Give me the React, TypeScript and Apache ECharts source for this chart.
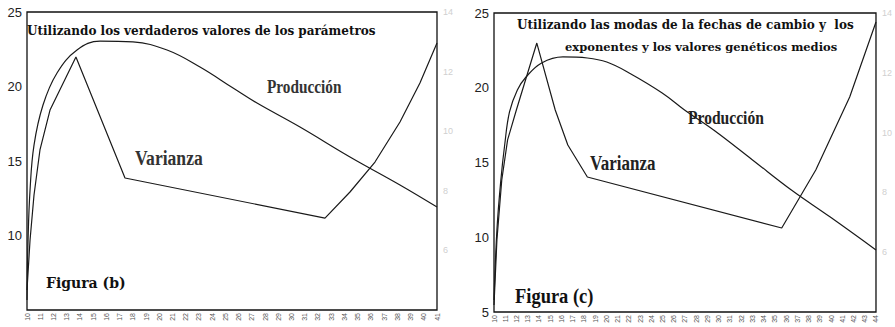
import React, { useEffect, useRef } from "react";
import * as echarts from "echarts";

// Tick labels (tiny rotated labels along the bottom, illegible in the scan)
const leftTicks = Array.from({ length: 32 }, (_, i) => String(10 + i));
const rightTicks = Array.from({ length: 35 }, (_, i) => String(10 + i));

// Figura (b): Producción
const prodLeftX = [0, 0.08, 0.23, 0.53, 1.21, 2.27, 3.78, 5.52, 8.01, 10.59, 13.08, 15.58, 17.39, 20.64, 24.42, 28.2, 31];
const prodLeftY = [5.67, 9.7, 13.05, 16.07, 18.76, 20.91, 22.45, 23.05, 22.99, 22.45, 21.31, 19.9, 18.89, 17.28, 15.27, 13.39, 11.91];
// Figura (b): Varianza
const varLeftX = [0, 0.23, 0.53, 0.98, 1.74, 3.7, 7.41, 22.53, 24.42, 26.31, 28.2, 29.71, 31];
const varLeftY = [6.34, 9.7, 12.72, 15.74, 18.42, 21.98, 13.86, 11.17, 12.92, 14.93, 17.62, 20.23, 22.92];

// Figura (c): Producción
const prodRightX = [0, 0.26, 0.61, 0.95, 1.38, 2.08, 2.85, 4.24, 6.14, 8.31, 10.04, 12.03, 14.97, 16.96, 19.55, 23.01, 26.47, 29.93, 34];
const prodRightY = [5.8, 10.48, 13.83, 16.17, 18.38, 19.85, 20.72, 21.66, 22.06, 21.99, 21.72, 20.99, 19.65, 18.51, 17.17, 15.17, 13.16, 11.35, 9.15];
// Figura (c): Varianza
const varRightX = [0, 0.26, 0.69, 1.21, 1.99, 3.81, 5.45, 6.57, 8.31, 25.61, 28.64, 31.66, 34];
const varRightY = [5.47, 9.82, 13.83, 16.51, 18.51, 22.99, 18.51, 16.17, 14.03, 10.62, 14.5, 19.38, 24.4];

const zip = (xs: number[], ys: number[]) => xs.map((x, i) => [x, ys[i]]);

const titleFont = "DejaVu Serif";
const labelFont = "Liberation Serif";

export default function App() {
  const ref = useRef<HTMLDivElement>(null);
  useEffect(() => {
    if (!ref.current) return;
    const chart = echarts.init(ref.current, undefined, { renderer: "svg" });
    const gridStyle = { show: true, borderColor: "#111", borderWidth: 1.3, backgroundColor: "transparent" };
    const hidden = { axisLine: { show: false }, axisTick: { show: false }, splitLine: { show: false } };
    const yMain = (gi: number, hideMin: boolean) => ({
      gridIndex: gi, type: "value", min: 5, max: 25, interval: 5, ...hidden,
      axisLabel: {
        margin: 5, fontSize: 13, color: "#222", fontFamily: "Liberation Sans",
        formatter: (v: number) => (hideMin && v === 5 ? "" : String(v)),
      },
    });
    const ySec = (gi: number) => ({
      gridIndex: gi, type: "value", position: "right", min: 4, max: 14, interval: 2, ...hidden,
      axisLabel: { margin: 6, fontSize: 9, color: "#d0d0d0", showMinLabel: false },
    });
    const xAx = (gi: number, ticks: string[]) => ({
      gridIndex: gi, type: "value", min: 0, max: ticks.length - 1, interval: 1, ...hidden,
      axisLabel: {
        rotate: 90, fontSize: 7, color: "#555", margin: 3, fontFamily: "Liberation Sans",
        formatter: (v: number) => ticks[Math.round(v)] ?? "",
      },
    });
    const line = (name: string, xi: number, yi: number, data: number[][], smooth: boolean | number) => ({
      name, type: "line", xAxisIndex: xi, yAxisIndex: yi, data, symbol: "none",
      smooth,
      lineStyle: { color: "#1a1a1a", width: 1.2 },
    });
    const txt = (x: number, y: number, text: string, size: number, font: string, opts: any = {}) => ({
      type: "text", x, y, scaleX: opts.scaleX ?? 1, scaleY: opts.scaleY ?? 1,
      style: {
        text, fontSize: size, fontFamily: font, fontWeight: "bold", fill: opts.fill ?? "#111",
        textAlign: opts.align ?? "left", textVerticalAlign: "middle",
      },
    });
    chart.setOption({
      animation: false,
      backgroundColor: "#fff",
      grid: [
        { left: 27, top: 12, width: 410, height: 298, ...gridStyle },
        { left: 494, top: 13, width: 393, height: 299, ...gridStyle },
      ],
      xAxis: [xAx(0, leftTicks), xAx(1, rightTicks)],
      yAxis: [yMain(0, true), ySec(0), yMain(1, false), ySec(1)],
      series: [
        line("Producción", 0, 0, zip(prodLeftX, prodLeftY), 0.4),
        line("Varianza", 0, 0, zip(varLeftX, varLeftY), false),
        line("Producción", 1, 2, zip(prodRightX, prodRightY), 0.4),
        line("Varianza", 1, 2, zip(varRightX, varRightY), false),
      ],
      graphic: [
        txt(27, 31, "Utilizando los verdaderos valores de los parámetros", 12, titleFont),
        txt(267, 87, "Producción", 18, labelFont, { scaleX: 0.85, fill: "#333" }),
        txt(135, 158, "Varianza", 20, labelFont, { scaleX: 0.88, fill: "#333" }),
        txt(46, 283, "Figura (b)", 14, titleFont),
        txt(517, 25, "Utilizando las modas de la fechas de cambio y  los", 12, titleFont),
        txt(565, 47, "exponentes y los valores genéticos medios", 11.5, titleFont),
        txt(688, 118, "Producción", 19, labelFont, { scaleX: 0.82, fill: "#222" }),
        txt(590, 163, "Varianza", 20, labelFont, { scaleX: 0.85, fill: "#222" }),
        txt(515, 296, "Figura (c)", 21, labelFont, { scaleX: 0.88 }),
      ],
    });
    return () => chart.dispose();
  }, []);
  return (
    <div
      ref={ref}
      style={{ position: "absolute", left: 0, top: 0, width: 895, height: 327, background: "#fff" }}
    />
  );
}
